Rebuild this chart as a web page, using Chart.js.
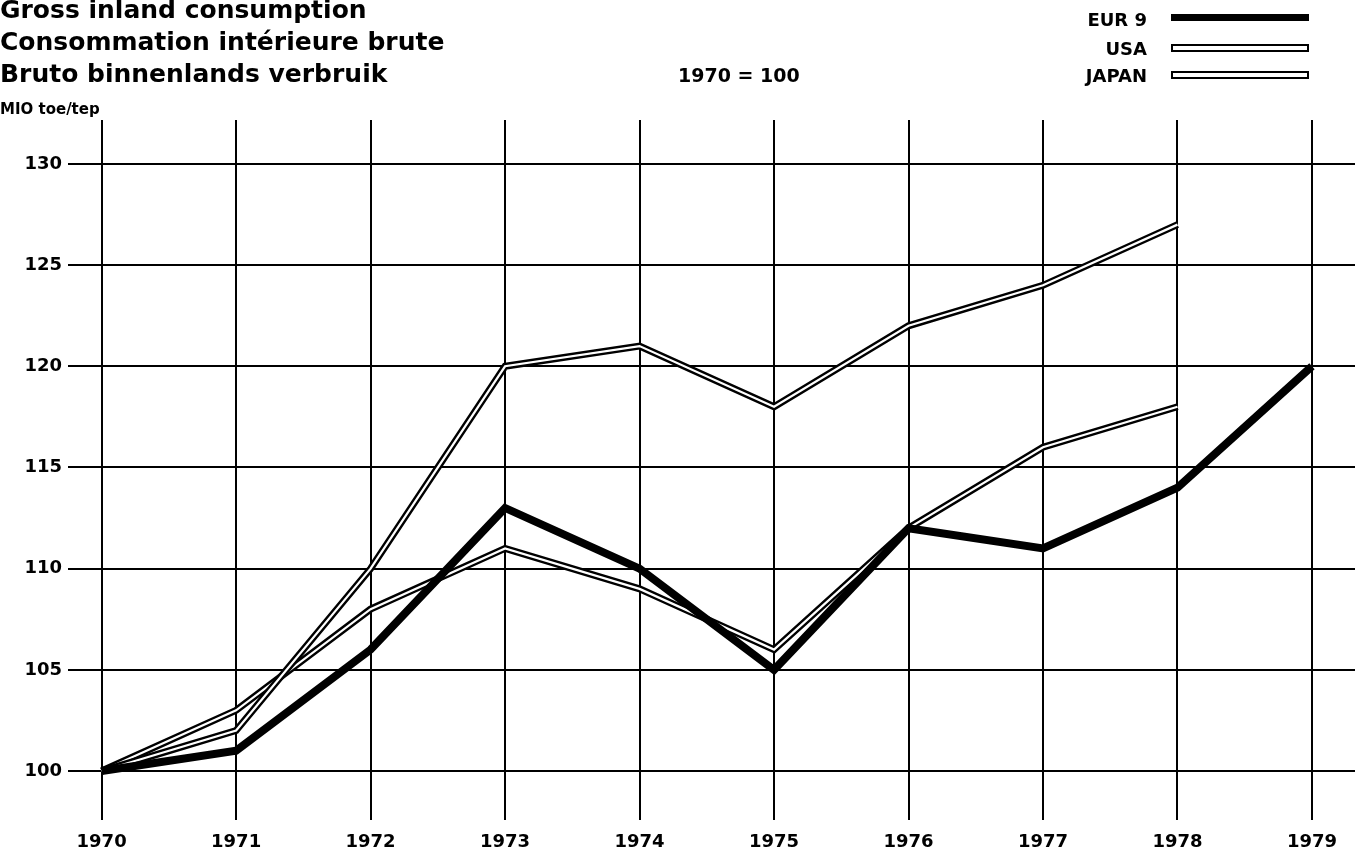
<!DOCTYPE html>
<html>
<head>
<meta charset="utf-8">
<script src="https://cdn.jsdelivr.net/npm/chart.js@4/dist/chart.umd.min.js"></script>
<style>
  body { margin: 0; background: #fff; overflow: hidden; }
  #wrap { position: relative; width: 1367px; height: 855px; }
  canvas { position: absolute; left: 0; top: 0; }
  .txt { position: absolute; font-family: "DejaVu Sans", sans-serif; font-weight: bold; color: #000; white-space: nowrap; line-height: 1; }
  .title { font-size: 25px; left: 0; }
  .key { font-size: 18px; right: 220px; text-align: right; }
  .swatch { position: absolute; left: 1171px; width: 138px; box-sizing: border-box; }
</style>
</head>
<body>
<div id="wrap">
  <canvas id="chart" width="1367" height="855"></canvas>
  <div class="txt title" style="top:-3px">Gross inland consumption</div>
  <div class="txt title" style="top:29px">Consommation intérieure brute</div>
  <div class="txt title" style="top:61px">Bruto binnenlands verbruik</div>
  <div class="txt" style="left:0;top:102px;font-size:15px">MIO toe/tep</div>
  <div class="txt" style="left:678px;top:66px;font-size:19px">1970 = 100</div>
  <div class="txt key" style="top:11px">EUR 9</div>
  <div class="txt key" style="top:40px">USA</div>
  <div class="txt key" style="top:67px">JAPAN</div>
  <div class="swatch" style="top:14px;height:7px;background:#000"></div>
  <div class="swatch" style="top:44px;height:8px;border:2px solid #000;background:#fff"></div>
  <div class="swatch" style="top:71px;height:8px;border:2px solid #000;background:#fff"></div>
</div>
<script>
// index, 1970 = 100
const years = [1970, 1971, 1972, 1973, 1974, 1975, 1976, 1977, 1978, 1979];
const eur9 = [100, 101, 106, 113, 110, 105, 112, 111, 114, 120];
const usa = [100, 103, 108, 111, 109, 106, 112, 116, 118];
const japan = [100, 102, 110, 120, 121, 118, 122, 124, 127];
const yTicks = [100, 105, 110, 115, 120, 125, 130];

const FONT = '"DejaVu Sans", sans-serif';

function points(vals) {
  return vals.map((v, i) => ({ x: years[i], y: v }));
}

// USA and Japan are drawn as hollow lines: a wide black stroke with a thin white core on top
function hollow(label, vals, order) {
  return [
    { label: label, data: points(vals), borderColor: '#000', borderWidth: 7, pointRadius: 0, order: order + 1 },
    { label: label + ' core', data: points(vals), borderColor: '#fff', borderWidth: 2.2, pointRadius: 0, order: order }
  ];
}

const datasets = [
  { label: 'EUR 9', data: points(eur9), borderColor: '#000', borderWidth: 8, pointRadius: 0, order: 0 },
  ...hollow('USA', usa, 3),
  ...hollow('JAPAN', japan, 1)
];

new Chart(document.getElementById('chart'), {
  type: 'line',
  data: { datasets: datasets },
  options: {
    responsive: false,
    animation: false,
    events: [],
    layout: { padding: { top: 120, right: 12, left: 0, bottom: 0 } },
    plugins: { legend: { display: false }, tooltip: { enabled: false } },
    elements: { line: { tension: 0, borderJoinStyle: 'miter' } },
    scales: {
      x: {
        type: 'linear',
        min: 1969.75,
        max: 1979.32,
        afterBuildTicks: (s) => { s.ticks = years.map(v => ({ value: v })); },
        afterFit: (s) => { s.height = 35; },
        border: { display: false },
        grid: { color: '#000', lineWidth: 2, drawTicks: false },
        ticks: {
          autoSkip: false, maxRotation: 0, padding: 12, color: '#000',
          font: { family: FONT, weight: 'bold', size: 18 },
          callback: (v) => String(v)
        }
      },
      y: {
        min: 97.58,
        max: 132.17,
        afterBuildTicks: (s) => { s.ticks = yTicks.map(v => ({ value: v })); },
        afterFit: (s) => { s.width = 68; },
        border: { display: false },
        grid: { color: '#000', lineWidth: 2, drawTicks: false },
        ticks: {
          padding: 6, color: '#000',
          font: { family: FONT, weight: 'bold', size: 18 },
          callback: (v) => String(v)
        }
      }
    }
  }
});
</script>
</body>
</html>
